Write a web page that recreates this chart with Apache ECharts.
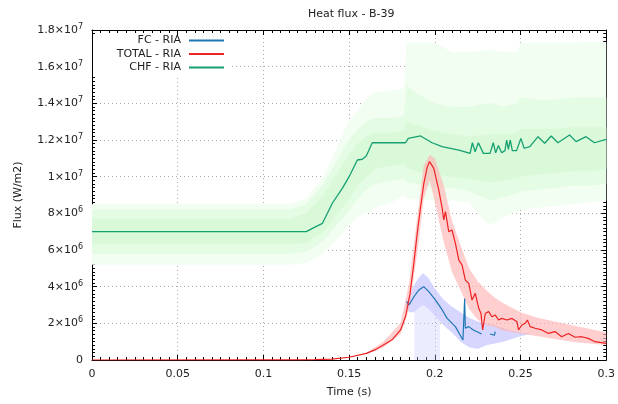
<!DOCTYPE html>
<html>
<head>
<meta charset="utf-8">
<script src="https://cdn.jsdelivr.net/npm/echarts@6/dist/echarts.min.js"></script>
<style>html,body{margin:0;padding:0;background:#fff;}#c{width:618px;height:404px;}</style>
</head>
<body>
<div id="c"></div>
<script>
// values in units of 1e6 W/m2
const SCALE = 1e6;
const xTicks = [0, 0.05, 0.1, 0.15, 0.2, 0.25, 0.3];

// CHF - RIA (reference line)
const chfT = [0, 0.125, 0.1286, 0.1344, 0.1402, 0.146, 0.150, 0.1548, 0.1577, 0.160, 0.1635, 0.1829, 0.1845, 0.1917, 0.1984, 0.2042, 0.214, 0.2206, 0.2219, 0.2235, 0.2254, 0.2283, 0.2322, 0.2341, 0.2355, 0.2371, 0.239, 0.2409, 0.2419, 0.2429, 0.244, 0.2452, 0.2477, 0.2502, 0.2521, 0.2554, 0.2602, 0.2641, 0.2679, 0.2718, 0.2786, 0.2824, 0.2882, 0.2931, 0.3];
const chfV = [7.0, 7.0, 7.18, 7.45, 8.55, 9.36, 10.0, 10.91, 10.95, 11.13, 11.85, 11.85, 12.09, 12.22, 11.85, 11.64, 11.45, 11.27, 11.85, 11.36, 11.85, 11.27, 11.27, 11.85, 11.3, 11.7, 11.3, 11.42, 12.0, 11.49, 12.0, 11.42, 11.42, 12.09, 11.55, 11.64, 12.18, 11.82, 12.22, 11.85, 12.27, 11.91, 12.18, 11.85, 12.04];

// TOTAL - RIA
const totT = [0, 0.10, 0.12, 0.13, 0.14, 0.15, 0.16, 0.165, 0.17, 0.175, 0.18, 0.183, 0.1855, 0.1878, 0.1897, 0.1917, 0.1936, 0.1955, 0.1969, 0.1994, 0.2023, 0.2043, 0.2052, 0.2062, 0.2081, 0.21, 0.212, 0.214, 0.2159, 0.2178, 0.2198, 0.2217, 0.2236, 0.2256, 0.2269, 0.2279, 0.2295, 0.2314, 0.2333, 0.2353, 0.2372, 0.2391, 0.2421, 0.245, 0.2479, 0.2488, 0.2508, 0.2527, 0.254, 0.2556, 0.2585, 0.2624, 0.2663, 0.2701, 0.274, 0.2779, 0.2818, 0.2856, 0.2895, 0.2934, 0.3];
const totV = [0, 0.003, 0.01, 0.02, 0.05, 0.15, 0.36, 0.55, 0.82, 1.1, 1.64, 2.4, 3.6, 5.3, 6.9, 8.36, 9.64, 10.5, 10.82, 10.45, 9.27, 8.27, 7.64, 8.09, 7.0, 7.09, 6.36, 5.45, 5.18, 4.36, 4.18, 3.27, 3.64, 2.82, 2.55, 1.64, 2.55, 2.64, 2.36, 2.45, 2.18, 2.27, 2.18, 2.27, 2.09, 1.64, 1.91, 2.0, 2.18, 1.82, 1.73, 1.64, 1.45, 1.55, 1.27, 1.45, 1.24, 1.27, 1.18, 1.0, 0.91];

// FC - RIA (null = gap)
const fcT = [0.1835, 0.1849, 0.1878, 0.1907, 0.1935, 0.1965, 0.2004, 0.2043, 0.2072, 0.212, 0.2164, 0.2174, 0.2178, 0.2198, 0.2225, 0.2273, 0.23, 0.2322, 0.2347, 0.2353];
const fcV = [3.2, 3.0, 3.45, 3.82, 4.0, 3.73, 3.27, 2.73, 2.27, 1.82, 1.09, 3.36, 1.73, 1.82, 1.64, 1.42, null, 1.42, 1.35, 1.55];

// CHF uncertainty envelope (outer, inner, core)
const gT      = [0, 0.115, 0.125, 0.135, 0.145, 0.15, 0.155, 0.16, 0.165, 0.175, 0.182, 0.1835, 0.19, 0.2, 0.21, 0.22, 0.23, 0.233, 0.24, 0.248, 0.25, 0.26, 0.27, 0.28, 0.29, 0.3];
const gOutLo  = [5.2, 5.2, 5.3, 5.8, 6.8, 7.4, 7.8, 8.0, 8.3, 8.6, 9.0, 8.8, 8.75, 8.7, 8.7, 8.6, 7.5, 7.4, 7.8, 8.1, 8.2, 8.3, 8.4, 8.5, 8.6, 8.7];
const gOutHi  = [8.5, 8.5, 8.8, 10.0, 12.0, 13.1, 13.6, 14.2, 14.6, 14.7, 14.8, 17.3, 17.3, 17.3, 16.8, 16.8, 16.9, 16.9, 16.8, 16.8, 17.3, 17.3, 17.3, 17.3, 17.35, 17.35];
const gInLo   = [5.8, 5.8, 5.9, 6.5, 7.6, 8.2, 8.8, 9.3, 9.6, 9.8, 9.9, 9.7, 9.6, 9.4, 9.4, 9.2, 8.8, 8.7, 8.9, 9.1, 9.2, 9.3, 9.4, 9.5, 9.5, 9.6];
const gInHi   = [8.2, 8.2, 8.5, 9.6, 11.2, 12.0, 12.6, 13.0, 13.2, 13.2, 13.3, 15.0, 14.5, 14.0, 13.8, 13.8, 14.0, 14.0, 13.8, 14.0, 14.3, 14.2, 14.2, 14.3, 14.3, 14.3];
const gCoLo   = [6.3, 6.3, 6.4, 7.0, 8.2, 8.8, 9.5, 10.0, 10.4, 10.6, 10.7, 10.5, 10.3, 10.1, 10.0, 9.9, 9.7, 9.7, 9.8, 9.9, 10.0, 10.1, 10.2, 10.3, 10.3, 10.4];
const gCoHi   = [7.7, 7.7, 8.0, 9.0, 10.5, 11.2, 11.8, 12.2, 12.4, 12.4, 12.5, 13.0, 12.8, 12.5, 12.3, 12.2, 12.3, 12.3, 12.3, 12.4, 12.6, 12.6, 12.6, 12.7, 12.7, 12.7];

// TOTAL uncertainty envelope
const rT  = [0.16, 0.17, 0.18, 0.185, 0.19, 0.1935, 0.197, 0.2, 0.205, 0.21, 0.216, 0.22, 0.225, 0.23, 0.235, 0.24, 0.25, 0.26, 0.27, 0.28, 0.29, 0.3];
const rLo = [0.3, 0.7, 1.4, 2.8, 6.0, 8.8, 9.8, 8.6, 6.5, 4.8, 3.6, 2.8, 2.2, 1.9, 1.8, 1.6, 1.45, 1.3, 1.15, 1.0, 0.9, 0.82];
const rHi = [0.4, 1.0, 2.0, 4.2, 8.0, 10.6, 11.2, 11.0, 9.6, 7.6, 6.0, 5.0, 4.3, 3.8, 3.4, 3.1, 2.6, 2.3, 2.1, 1.9, 1.7, 1.5];

// FC uncertainty envelope
const bT  = [0.183, 0.185, 0.188, 0.19, 0.193, 0.196, 0.2, 0.205, 0.21, 0.215, 0.22, 0.225, 0.23, 0.235, 0.24, 0.245, 0.25, 0.255];
const bLo = [2.9, 2.6, 2.6, 2.8, 3.0, 2.8, 2.4, 1.9, 1.5, 1.0, 0.7, 0.6, 0.8, 0.9, 1.0, 1.15, 1.3, 1.4];
const bHi = [3.0, 3.5, 4.1, 4.4, 4.75, 4.5, 3.9, 3.3, 2.9, 2.6, 2.3, 2.1, 2.0, 1.9, 1.75, 1.6, 1.5, 1.45];
// FC streaks to zero
const sT  = [0.188, 0.19, 0.193, 0.196, 0.2, 0.203];
const sLo = [0, 0, 0, 0, 0, 0];
const sHi = [2.6, 2.8, 3.0, 2.8, 2.4, 2.1];

const C_FC = '#1f77b4', C_TOT = '#ee2222', C_CHF = '#17a072';
const FONT = 'DejaVu Sans';

function pairs(T, V) { return T.map((t, i) => [t, V[i] === null ? null : V[i] * SCALE]); }
function band(T, lo, hi, color, z) {
  return {
    type: 'custom', silent: true, z: z, clip: true,
    data: [[T[0], lo[0] * SCALE]],
    renderItem: function (params, api) {
      const pts = [];
      for (let i = 0; i < T.length; i++) pts.push(api.coord([T[i], hi[i] * SCALE]));
      for (let i = T.length - 1; i >= 0; i--) pts.push(api.coord([T[i], lo[i] * SCALE]));
      return { type: 'polygon', shape: { points: pts }, style: { fill: color } };
    }
  };
}
function sci(v) {
  if (v === 0) return '0';
  const e = Math.floor(Math.log10(v) + 1e-9);
  const m = +(v / Math.pow(10, e)).toFixed(1);
  return m + '×10{sup|' + e + '}';
}

const axisCommon = {
  axisLine: { show: true, onZero: false, lineStyle: { color: '#000', width: 1 } },
  axisTick: { show: true, inside: true, length: 5, lineStyle: { color: '#000' } },
  minorTick: { show: true, splitNumber: 10, length: 3, lineStyle: { color: '#000' } },
};

const chart = echarts.init(document.getElementById('c'), null, { renderer: 'canvas' });
chart.setOption({
  animation: false,
  backgroundColor: '#fff',
  textStyle: { fontFamily: FONT },
  title: { text: 'Heat flux - B-39', left: 303, top: 4, textStyle: { fontFamily: FONT, fontSize: 11, fontWeight: 'normal', color: '#222' } },
  grid: { left: 92, right: 10, top: 30, bottom: 44 },
  graphic: [{ type: 'rect', z: 1, left: 93, top: 37, shape: { width: 137, height: 39 }, style: { fill: '#fff' } }],
  legend: [
    { data: ['FC - RIA'], right: 394, top: 35 },
    { data: ['TOTAL - RIA'], right: 394, top: 48.5 },
    { data: ['CHF - RIA'], right: 394, top: 62 }
  ].map(l => Object.assign(l, { orient: 'vertical', align: 'right', padding: 0, itemWidth: 35, itemHeight: 2, icon: 'rect', textStyle: { fontFamily: FONT, fontSize: 11, color: '#222', padding: [0, 3, 0, 0] } })),
  xAxis: [
    Object.assign({}, axisCommon, {
      type: 'value', min: 0, max: 0.3, interval: 0.05, position: 'bottom',
      name: 'Time (s)', nameLocation: 'middle', nameGap: 27, nameTextStyle: { fontFamily: FONT, fontSize: 11, color: '#222' },
      axisLabel: { fontFamily: FONT, fontSize: 11, color: '#222', margin: 9, formatter: v => String(+v.toFixed(2)) },
      splitLine: { show: true, lineStyle: { color: '#aaa', type: [1, 3], width: 1 } }
    }),
    Object.assign({}, axisCommon, {
      type: 'value', min: 0, max: 0.3, interval: 0.05, position: 'top',
      axisLabel: { show: false }, splitLine: { show: false }
    })
  ],
  yAxis: [
    Object.assign({}, axisCommon, {
      type: 'value', min: 0, max: 1.8e7, interval: 2e6, position: 'left',
      name: 'Flux (W/m2)', nameLocation: 'middle', nameGap: 68, nameTextStyle: { fontFamily: FONT, fontSize: 11, color: '#222' },
      axisLabel: { fontFamily: FONT, fontSize: 11, color: '#222', margin: 9, formatter: sci,
        rich: { sup: { fontFamily: FONT, fontSize: 8, color: '#222', padding: [0, 0, 6, 0], verticalAlign: 'bottom' } } },
      splitLine: { show: true, lineStyle: { color: '#aaa', type: [1, 3], width: 1 } }
    }),
    Object.assign({}, axisCommon, {
      type: 'value', min: 0, max: 1.8e7, interval: 2e6, position: 'right',
      axisLabel: { show: false }, splitLine: { show: false }
    })
  ],
  series: [
    band(gT, gOutLo, gOutHi, '#f1fef1', 2),
    band(gT, gInLo, gInHi, '#e4fce4', 2),
    band(gT, gCoLo, gCoHi, '#d9f9d9', 2),
    band(sT, sLo, sHi, 'rgba(200,200,255,0.35)', 3),
    band(bT, bLo, bHi, 'rgba(200,200,255,0.75)', 3),
    band(rT, rLo, rHi, 'rgba(255,180,180,0.65)', 3),
    { name: 'FC - RIA', type: 'line', data: pairs(fcT, fcV), showSymbol: false, connectNulls: false, z: 5, color: C_FC, lineStyle: { width: 1.2, color: C_FC } },
    { name: 'TOTAL - RIA', type: 'line', data: pairs(totT, totV), showSymbol: false, z: 6, color: C_TOT, lineStyle: { width: 1.2, color: C_TOT } },
    { name: 'CHF - RIA', type: 'line', data: pairs(chfT, chfV), showSymbol: false, z: 6, color: C_CHF, lineStyle: { width: 1.3, color: C_CHF } }
  ]
});
</script>
</body>
</html>
